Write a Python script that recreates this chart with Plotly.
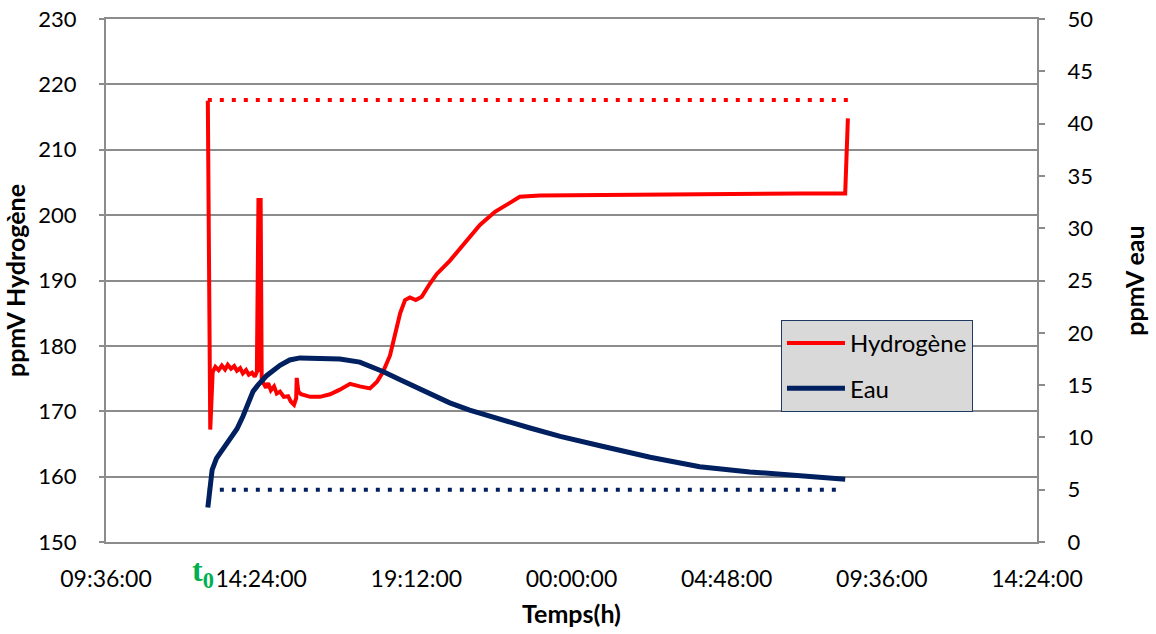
import plotly.graph_objects as go

D1 = "2013-01-01 "
D2 = "2013-01-02 "

h2_times = [
    D1 + "12:45", D1 + "12:49:30", D1 + "12:54", D1 + "12:59", D1 + "13:05", D1 + "13:11",
    D1 + "13:17", D1 + "13:22", D1 + "13:28", D1 + "13:34", D1 + "13:39", D1 + "13:45",
    D1 + "13:50", D1 + "13:56", D1 + "14:01", D1 + "14:07", D1 + "14:12", D1 + "14:16",
    D1 + "14:19", D1 + "14:21", D1 + "14:23", D1 + "14:25", D1 + "14:27", D1 + "14:33",
    D1 + "14:37", D1 + "14:42", D1 + "14:48", D1 + "14:53", D1 + "14:59", D1 + "15:06",
    D1 + "15:14", D1 + "15:19", D1 + "15:25", D1 + "15:29", D1 + "15:30", D1 + "15:33",
    D1 + "15:38", D1 + "15:55", D1 + "16:13", D1 + "16:32", D1 + "16:50", D1 + "17:09",
    D1 + "17:27", D1 + "17:46", D1 + "17:59", D1 + "18:10", D1 + "18:23", D1 + "18:32",
    D1 + "18:42", D1 + "18:51", D1 + "19:00", D1 + "19:11", D1 + "19:22", D1 + "19:37",
    D1 + "19:50", D1 + "20:14", D1 + "20:46", D1 + "21:10", D1 + "21:38", D1 + "22:06",
    D1 + "22:24", D1 + "23:01", D2 + "00:53", D2 + "03:58", D2 + "07:04", D2 + "08:28",
    D2 + "08:33",
]
h2_values = [
    217.5, 167.2, 176.0, 176.8, 176.3, 177.0,
    176.4, 177.1, 176.5, 176.9, 176.2, 176.6,
    175.8, 176.3, 175.6, 175.9, 175.3, 176.0,
    202.6, 176.0, 202.6, 175.0, 174.5, 173.6,
    174.3, 173.2, 173.8, 172.7, 173.0, 172.2,
    172.3, 171.5, 171.0, 172.0, 175.1, 173.0,
    172.6, 172.2, 172.2, 172.6, 173.3, 174.2,
    173.8, 173.5, 174.5, 176.0, 178.5, 181.5,
    185.0, 187.0, 187.4, 187.0, 187.5, 189.5,
    191.0, 193.0, 196.2, 198.5, 200.5, 202.0,
    202.8, 203.0, 203.1, 203.2, 203.3, 203.3,
    214.8,
]

eau_times = [
    D1 + "12:45", D1 + "12:49", D1 + "12:53", D1 + "13:01", D1 + "13:11", D1 + "13:26",
    D1 + "13:39", D1 + "13:50", D1 + "13:59", D1 + "14:09", D1 + "14:18", D1 + "14:34",
    D1 + "14:59", D1 + "15:17", D1 + "15:36", D1 + "16:13", D1 + "16:50", D1 + "17:27",
    D1 + "18:10", D1 + "18:42", D1 + "19:19", D1 + "20:14", D1 + "20:51", D1 + "21:47",
    D1 + "22:43", D1 + "23:39", D2 + "00:11", D2 + "00:53", D2 + "02:26", D2 + "03:58",
    D2 + "05:31", D2 + "07:04", D2 + "08:28",
]
eau_values = [
    3.3, 5.5, 6.9, 8.0, 8.7, 9.8,
    10.8, 12.0, 13.2, 14.4, 15.0, 15.9,
    16.9, 17.4, 17.6, 17.6, 17.5, 17.2,
    16.3, 15.5, 14.6, 13.3, 12.6, 11.7,
    10.9, 10.1, 9.75, 9.2, 8.1, 7.2,
    6.7, 6.3, 6.0,
]

h2_limit_times = [D1 + "12:45", D2 + "08:33"]
h2_limit_values = [217.6, 217.6]
eau_limit_times = [D1 + "12:45", D2 + "08:15"]
eau_limit_values = [5.0, 5.0]

x_range = [D1 + "09:36", D2 + "14:24"]
y_left_range = [150, 230]
y_right_range = [0, 50]

RED = "#ff0000"
NAVY = "#002060"
GRID = "#8c8c8c"
FONT = "Lato, Open Sans, sans-serif"

fig = go.Figure()
fig.add_trace(go.Scatter(x=h2_limit_times, y=h2_limit_values, mode="lines",
                         line=dict(color=RED, width=4, dash="4px,8px"),
                         showlegend=False, hoverinfo="skip"))
fig.add_trace(go.Scatter(x=eau_limit_times, y=eau_limit_values, mode="lines", yaxis="y2",
                         line=dict(color=NAVY, width=4, dash="4px,8px"),
                         showlegend=False, hoverinfo="skip"))
fig.add_trace(go.Scatter(x=h2_times, y=h2_values, mode="lines", name="Hydrogène",
                         legendgroup="a", line=dict(color=RED, width=4)))
fig.add_trace(go.Scatter(x=eau_times, y=eau_values, mode="lines", name="Eau", yaxis="y2",
                         legendgroup="b", line=dict(color=NAVY, width=5)))

fig.update_layout(
    width=1156, height=634,
    margin=dict(l=106, r=119, t=19, b=92),
    paper_bgcolor="white", plot_bgcolor="white",
    font=dict(family=FONT, size=22, color="#000000"),
    xaxis=dict(
        type="date", range=x_range, tick0=D1 + "09:36", dtick=4.8 * 3600 * 1000,
        tickformat="%H:%M:%S", showgrid=False, zeroline=False, automargin=False,
        showline=True, mirror=True, linecolor=GRID, linewidth=2, ticks="",
        ticklabelstandoff=15, tickfont=dict(size=23), ticklabeloverflow="allow",
        title=dict(text="<b>Temps(h)</b>", font=dict(size=25), standoff=15),
    ),
    yaxis=dict(
        range=y_left_range, dtick=10, showgrid=True, gridcolor=GRID, gridwidth=2,
        zeroline=False, showline=True, linecolor=GRID, linewidth=2, automargin=False,
        ticks="outside", ticklen=5, tickcolor=GRID, tickwidth=2, ticklabelstandoff=18,
        ticklabeloverflow="allow",
        title=dict(text="<b>ppmV Hydrogène</b>", font=dict(size=25), standoff=10),
    ),
    yaxis2=dict(
        range=y_right_range, dtick=5, overlaying="y", side="right", showgrid=False,
        zeroline=False, showline=True, linecolor=GRID, linewidth=2, automargin=False,
        ticks="outside", ticklen=6, tickcolor=GRID, tickwidth=2, ticklabelstandoff=18,
        ticklabeloverflow="allow",
        title=dict(text="<b>ppmV eau</b>", font=dict(size=25), standoff=34),
    ),
    legend=dict(
        x=0.725, y=0.4245, xanchor="left", yanchor="top",
        bgcolor="#d9d9d9", bordercolor="#1f3864", borderwidth=1,
        font=dict(size=24, family=FONT), itemwidth=58,
        traceorder="grouped", tracegroupgap=11,
    ),
    annotations=[dict(
        x=D1 + "12:45", y=0, xref="x", yref="paper", yanchor="top", xanchor="center",
        yshift=-8, xshift=-5, showarrow=False,
        text="<b>t<sub>0</sub></b>",
        font=dict(family="Liberation Serif, DejaVu Serif, serif", size=32, color="#00b050"),
    )],
)

# remove the browser's default 8px body margin so the figure fills the window exactly
fig.write_html("out.html", config={"displayModeBar": False},
               post_script="document.body.style.margin='0';document.body.style.overflow='hidden';")
